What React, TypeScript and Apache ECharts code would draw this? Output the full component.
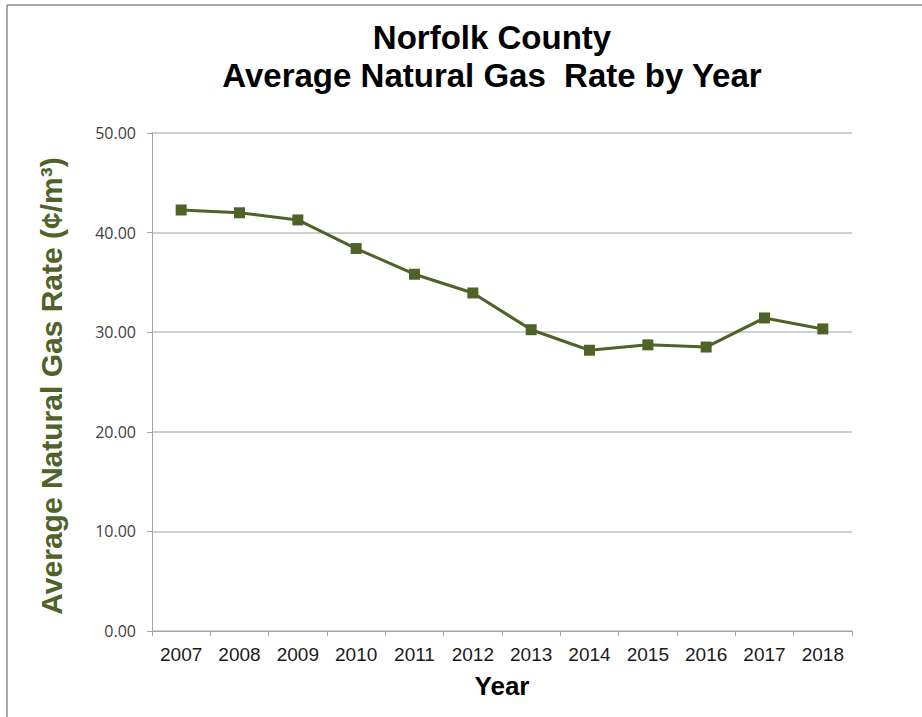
import React, { useEffect, useRef } from "react";
import * as echarts from "echarts";

const years = ["2007", "2008", "2009", "2010", "2011", "2012", "2013", "2014", "2015", "2016", "2017", "2018"];
const rates = [42.27, 41.99, 41.27, 38.4, 35.82, 33.94, 30.25, 28.19, 28.73, 28.51, 31.43, 30.33];
const yTicks = { min: 0, max: 50, interval: 10 };

const FONT = "Liberation Sans, Arial, sans-serif";

export default function App() {
  const ref = useRef<HTMLDivElement>(null);
  useEffect(() => {
    if (!ref.current) return;
    const chart = echarts.init(ref.current, null, { renderer: "svg" });
    chart.setOption({
      animation: false,
      backgroundColor: "#ffffff",
      textStyle: { fontFamily: FONT },
      title: {
        text: "Norfolk County\nAverage Natural Gas  Rate by Year",
        left: 487,
        top: 13,
        textAlign: "center",
        textStyle: {
          fontFamily: FONT,
          fontSize: 33,
          fontWeight: "bold",
          color: "#000000",
          lineHeight: 38,
        },
      },
      graphic: [
        { type: "line", shape: { x1: 7, y1: 5, x2: 7, y2: 800 }, style: { stroke: "#8a8a8a", lineWidth: 1.5 } },
        { type: "line", shape: { x1: 7, y1: 5, x2: 1000, y2: 5 }, style: { stroke: "#8a8a8a", lineWidth: 1.5 } },
      ],
      grid: { left: 152, right: 70, top: 133, bottom: 86 },
      xAxis: {
        type: "category",
        data: years,
        boundaryGap: true,
        name: "Year",
        nameLocation: "middle",
        nameGap: 42,
        nameTextStyle: { fontFamily: FONT, fontSize: 26, fontWeight: "bold", color: "#000000" },
        axisLine: { lineStyle: { color: "#a6a6a6", width: 1 } },
        axisTick: { show: true, alignWithLabel: false, length: 5, lineStyle: { color: "#a6a6a6" } },
        axisLabel: { fontFamily: FONT, fontSize: 19, color: "#1a1a1a", margin: 14, interval: 0 },
      },
      yAxis: {
        type: "value",
        min: yTicks.min,
        max: yTicks.max,
        interval: yTicks.interval,
        name: "Average Natural Gas Rate (¢/m³)",
        nameLocation: "middle",
        nameGap: 86,
        nameRotate: 90,
        nameTextStyle: { fontFamily: FONT, fontSize: 30, fontWeight: "bold", color: "#4f6228", padding: [0, 8, 0, 0] },
        axisLine: { show: true, lineStyle: { color: "#a6a6a6", width: 1 } },
        axisTick: { show: true, length: 5, lineStyle: { color: "#a6a6a6" } },
        axisLabel: {
          fontSize: 16,
          color: "#404040",
          margin: 16,
          fontFamily: "Open Sans, Liberation Sans, sans-serif",
          formatter: (v: number) => v.toFixed(2),
        },
        splitLine: { lineStyle: { color: "#bfbfbf", width: 1.5 } },
      },
      series: [
        {
          type: "line",
          data: rates,
          symbol: "rect",
          symbolSize: 11,
          lineStyle: { color: "#4f6228", width: 3 },
          itemStyle: { color: "#4f6228" },
        },
      ],
    });
    return () => chart.dispose();
  }, []);
  return <div ref={ref} style={{ position: "fixed", left: 0, top: 0, width: 922, height: 717 }} />;
}
